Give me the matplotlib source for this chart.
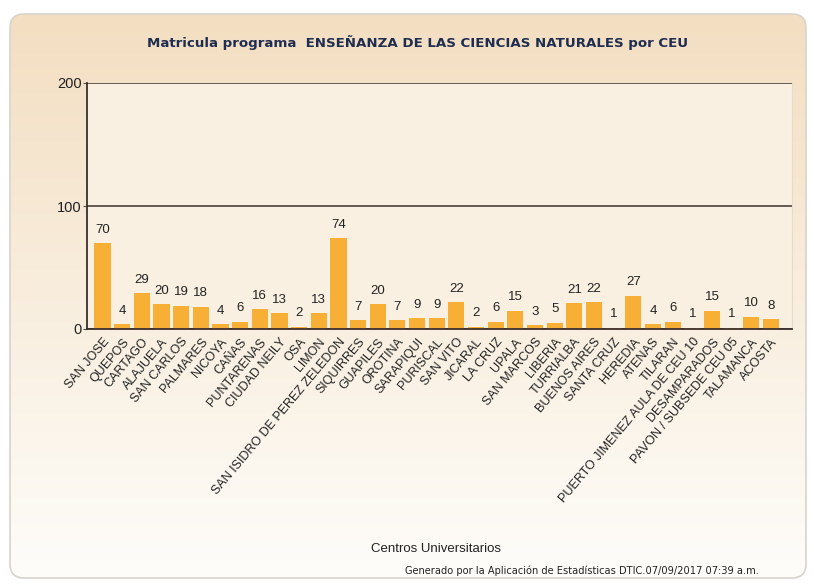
import numpy as np
import matplotlib
matplotlib.use("Agg")
import matplotlib.pyplot as plt
from matplotlib.patches import FancyBboxPatch

categories = ["SAN JOSE", "QUEPOS", "CARTAGO", "ALAJUELA", "SAN CARLOS", "PALMARES",
              "NICOYA", "CAÑAS", "PUNTARENAS", "CIUDAD NEILY", "OSA", "LIMON",
              "SAN ISIDRO DE PEREZ ZELEDON", "SIQUIRRES", "GUAPILES", "OROTINA",
              "SARAPIQUI", "PURISCAL", "SAN VITO", "JICARAL", "LA CRUZ", "UPALA",
              "SAN MARCOS", "LIBERIA", "TURRIALBA", "BUENOS AIRES", "SANTA CRUZ",
              "HEREDIA", "ATENAS", "TILARAN", "PUERTO JIMENEZ AULA DE CEU 10",
              "DESAMPARADOS", "PAVON / SUBSEDE CEU 05", "TALAMANCA", "ACOSTA"]
values = [70, 4, 29, 20, 19, 18, 4, 6, 16, 13, 2, 13, 74, 7, 20, 7, 9, 9, 22, 2,
          6, 15, 3, 5, 21, 22, 1, 27, 4, 6, 1, 15, 1, 10, 8]
yticks = [0, 100, 200]

W, H = 814, 584
fig = plt.figure(figsize=(W / 100, H / 100), dpi=100)
fig.patch.set_facecolor("white")

# gradient panel background
bg = fig.add_axes([0, 0, 1, 1], zorder=0)
bg.set_xlim(0, W)
bg.set_ylim(0, H)
bg.axis("off")
grad = np.linspace(0, 1, 256).reshape(-1, 1)
top = np.array([243, 222, 193]) / 255
bot = np.array([254, 253, 250]) / 255
img = (bot[None, None, :] * (1 - grad[:, :, None]) + top[None, None, :] * grad[:, :, None])
panel = FancyBboxPatch((10, 6), 796, 564, boxstyle="round,pad=0,rounding_size=14",
                       transform=bg.transData, facecolor="none", edgecolor="#d8d4cc", lw=1.2)
im = bg.imshow(img, extent=[10, 806, 6, 570], origin="lower", aspect="auto")
bg.add_patch(panel)
im.set_clip_path(panel)

# main axes: left x=87, right x=792, bottom y=329 (0), top y=83 (200)
ax = fig.add_axes([87 / W, 1 - 329 / H, (792 - 87) / W, (329 - 83) / H], zorder=1)
ax.set_facecolor("#faf0e1")
x = np.arange(len(categories))
ax.bar(x, values, width=0.82, color="#f7b035", zorder=2)
for xi, v in zip(x, values):
    ax.text(xi, v + 6, str(v), ha="center", va="bottom", fontsize=9.5,
            family="Liberation Sans", color="#222222")
ax.set_xlim(-0.79, len(categories) - 1 + 1.07)
ax.set_ylim(0, 200)
ax.set_yticks(yticks)
ax.set_yticklabels([str(t) for t in yticks], fontsize=10.5, family="Liberation Sans",
                   color="#222222")
ax.tick_params(axis="y", length=3, pad=1, color="#5a4f48")
ax.yaxis.grid(True, color="#5a4f48", lw=1.3, zorder=1)
ax.set_axisbelow(True)
ax.set_xticks(x)
ax.set_xticklabels(categories, rotation=50, ha="right", rotation_mode="anchor",
                   fontsize=9, family="Liberation Sans", color="#222222")
ax.tick_params(axis="x", length=0, pad=5)
for s in ["left", "bottom"]:
    ax.spines[s].set_color("#3a302a")
    ax.spines[s].set_linewidth(1.3)
ax.spines["top"].set_visible(False)
ax.spines["right"].set_color("#e6dccb")

fig.text(418 / W, 1 - 43 / H, "Matricula programa  ENSEÑANZA DE LAS CIENCIAS NATURALES por CEU",
         ha="center", va="center", fontsize=9.6, fontweight="bold",
         family="DejaVu Sans", color="#1f2d50")
fig.text(436 / W, 1 - 549 / H, "Centros Universitarios", ha="center", va="center",
         fontsize=9.5, family="Liberation Sans", color="#222222")
fig.text(582 / W, 1 - 571 / H,
         "Generado por la Aplicación de Estadísticas DTIC.07/09/2017 07:39 a.m.",
         ha="center", va="center", fontsize=7.1, family="DejaVu Sans", color="#222222")

fig.savefig("out.png", dpi=100)
